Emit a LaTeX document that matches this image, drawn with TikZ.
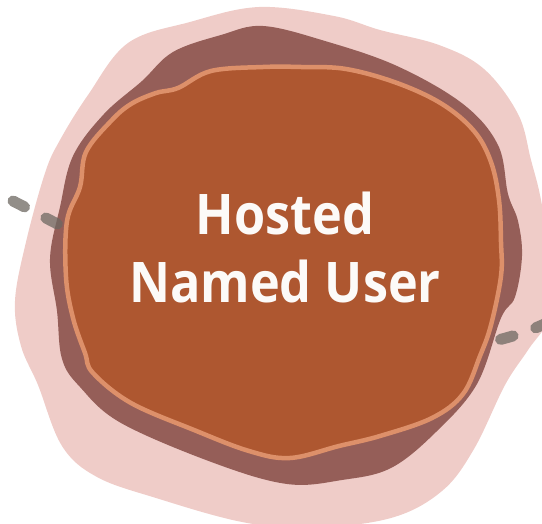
\documentclass[tikz,border=0pt]{standalone}
\usepackage{fontspec}
\newfontfamily\labelfont[FakeStretch=0.9]{Open Sans}
\definecolor{pinkbg}{HTML}{EFCCC8}
\definecolor{darkblob}{HTML}{955E58}
\definecolor{orangeblob}{HTML}{AE5730}
\definecolor{orangeedge}{HTML}{DD906A}
\definecolor{dashgray}{HTML}{6E6862}
\definecolor{textwhite}{HTML}{FCFAF8}
\tikzset{
  blob/.style={smooth cycle, tension=0.6},
  orbit/.style={draw=dashgray, opacity=0.75, line width=11pt, line cap=round, dash pattern=on 13pt off 24pt},
  labeltext/.style={text=textwhite, font=\labelfont\bfseries\fontsize{56}{68}\selectfont, align=center}
}
\begin{document}
\begin{tikzpicture}[x=1pt,y=-1pt]
\useasboundingbox (0,0) rectangle (542,524);
\clip (0,0) rectangle (542,524);
% outer pink blob
\fill[pinkbg] plot[blob] coordinates {(128,43) (190,22) (259,7) (334,16) (380,30) (439,45) (484,69) (518,114) (531,160) (541,200) (550,260) (550,315) (528,350) (505,385) (474,449) (442,491) (391,518) (311,528) (242,522) (156,498) (97,477) (62,446) (38,385) (21,346) (15,301) (26,242) (45,173) (60,140) (88,95)};
% dark blob
\fill[darkblob] plot[blob] coordinates {(221,35) (263,26) (325,41) (397,66) (463,104) (498,145) (508,194) (518,221) (522,256) (515,297) (501,318) (477,384) (436,432) (391,468) (342,480) (287,484) (214,463) (121,423) (80,387) (62,359) (57,311) (50,259) (60,207) (73,156) (104,114) (142,81) (173,52)};
% dashed orbit
\coordinate (oa) at (13,201);
\coordinate (ob) at (553,320);
\draw[orbit] (oa) .. controls (160,276) and (380,406) .. (ob);
% inner orange blob
\filldraw[fill=orangeblob, draw=orangeedge, line width=4.5pt] plot[blob] coordinates {(178,88) (211,71) (263,67) (301,67) (346,69) (397,83) (442,104) (474,131) (491,162) (499,200) (501,242) (501,276) (491,325) (480,356) (463,394) (432,418) (380,436) (339,446) (290,458) (249,451) (194,430) (131,403) (93,373) (85,353) (73,318) (66,277) (67,221) (80,187) (86,152) (111,121) (131,104) (156,93)};
\node[labeltext] (label) at (285,248) {Hosted\\Named User};
\end{tikzpicture}
\end{document}
